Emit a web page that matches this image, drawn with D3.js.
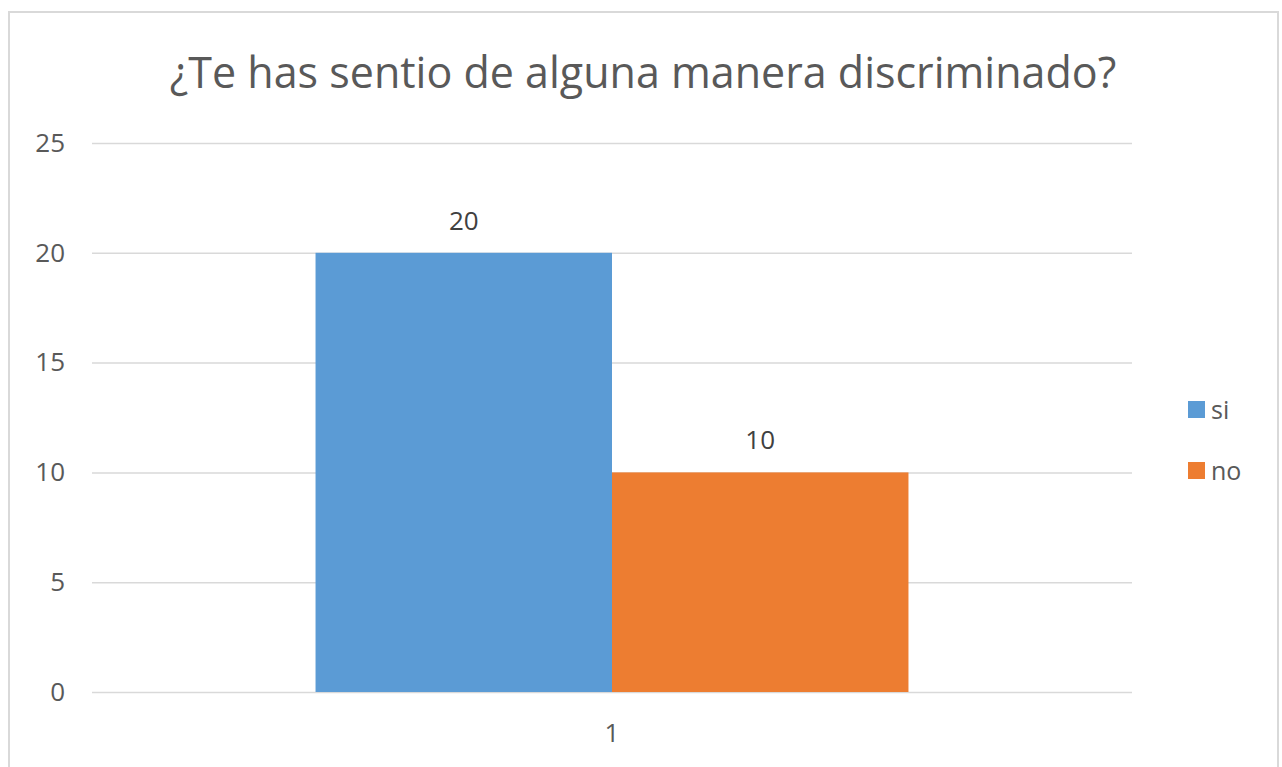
<!DOCTYPE html>
<html><head><meta charset="utf-8">
<script src="https://cdn.jsdelivr.net/npm/d3@7"></script>
<style>body{margin:0;background:#fff;}svg{display:block;}</style>
</head><body>
<svg id="c" width="1282" height="767"></svg>
<script>
const title = "¿Te has sentio de alguna manera discriminado?";
const categories = ["1"];
const seriesNames = ["si", "no"];
const seriesValues = [[20], [10]];
const yTicks = [0, 5, 10, 15, 20, 25];
const colors = ["#5b9bd5", "#ed7d31"];

(function () {
const svg = d3.select("#c");
const font = "'Open Sans', 'Noto Sans', sans-serif";
svg.append("rect").attr("x", 9).attr("y", 12).attr("width", 1269).attr("height", 780)
  .attr("fill", "#fff").attr("stroke", "#d9d9d9").attr("stroke-width", 2);

const pL = 92, pR = 1132, pT = 143, pB = 692;
const y = d3.scaleLinear().domain([0, 25]).range([pB, pT]);
const x0 = d3.scaleBand().domain(categories).range([pL, pR]).paddingInner(0).paddingOuter(0.377);
const x1 = d3.scaleBand().domain(seriesNames).range([0, x0.bandwidth()]);

const yAxis = d3.axisLeft(y).tickValues(yTicks).tickSize(-(pR - pL)).tickPadding(27);
const gy = svg.append("g").attr("transform", `translate(${pL},0)`).call(yAxis);
gy.select(".domain").remove();
gy.selectAll(".tick line").attr("stroke", "#d9d9d9").attr("stroke-width", 1.5);
gy.selectAll(".tick text").attr("fill", "#595959").style("font-family", font).style("font-size", "26px");

const gx = svg.append("g").attr("transform", `translate(0,${pB})`).call(d3.axisBottom(x0).tickSize(0).tickPadding(32));
gx.select(".domain").remove();
gx.selectAll(".tick text").attr("fill", "#595959").style("font-family", font).style("font-size", "26px");

const data = [];
categories.forEach((c, i) => seriesNames.forEach((s, j) => data.push({c, s, v: seriesValues[j][i], j})));

svg.append("g").selectAll("rect").data(data).join("rect")
  .attr("x", d => x0(d.c) + x1(d.s)).attr("width", x1.bandwidth())
  .attr("y", d => y(d.v)).attr("height", d => y(0) - y(d.v))
  .attr("fill", d => colors[d.j]);

svg.append("g").selectAll("text").data(data).join("text")
  .attr("x", d => x0(d.c) + x1(d.s) + x1.bandwidth() / 2).attr("y", d => y(d.v) - 23)
  .attr("text-anchor", "middle").attr("fill", "#404040")
  .style("font-family", font).style("font-size", "26px").text(d => d.v);

svg.append("text").attr("x", 643).attr("y", 88).attr("text-anchor", "middle")
  .attr("fill", "#595959").style("font-family", font).style("font-size", "43px").text(title);

const lg = svg.append("g");
seriesNames.forEach((s, j) => {
  const ly = 410 + j * 61;
  lg.append("rect").attr("x", 1188).attr("y", ly - 9).attr("width", 17).attr("height", 17).attr("fill", colors[j]);
  lg.append("text").attr("x", 1211).attr("y", ly + 9).attr("fill", "#595959")
    .style("font-family", font).style("font-size", "25px").text(s);
});
})();
</script>
</body></html>
